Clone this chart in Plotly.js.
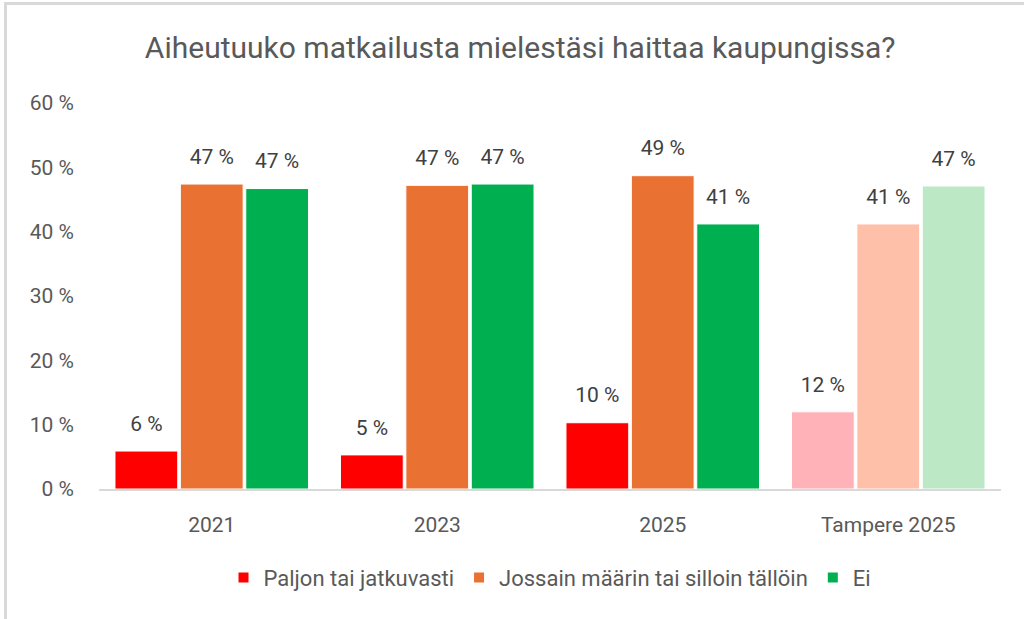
<!DOCTYPE html>
<html>
<head>
<meta charset="utf-8">
<script src="https://cdn.plot.ly/plotly-3.0.1.min.js"></script>
<style>
  html, body { margin: 0; padding: 0; background: #fff; }
  #frame { position: absolute; left: 0; top: 0; width: 1024px; height: 619px; overflow: hidden; }
  #border { position: absolute; left: 4px; top: 2px; width: 1030px; height: 630px; border-left: 3px solid #d9d9d9; border-top: 3px solid #d9d9d9; pointer-events: none; }
  #chart { position: absolute; left: 0; top: 0; width: 1024px; height: 619px; }
</style>
</head>
<body>
<div id="frame">
  <div id="chart"></div>
  <div id="border"></div>
</div>
<script>
const categories = ["2021", "2023", "2025", "Tampere 2025"];
const seriesNames = ["Paljon tai jatkuvasti", "Jossain määrin tai silloin tällöin", "Ei"];
const paljon = [5.9, 5.3, 10.3, 12.0];
const jossain = [47.4, 47.2, 48.7, 41.2];
const ei = [46.7, 47.4, 41.2, 47.1];
const yTicks = [0, 10, 20, 30, 40, 50, 60];
const yTickLabels = ["0 %", "10 %", "20 %", "30 %", "40 %", "50 %", "60 %"];

const mainColors = ["#FF0000", "#E97132", "#00B050"];
const lightColors = ["#FFB3B8", "#FFC0AA", "#BCE8C6"];
const values = [paljon, jossain, ei];

const FONT = "Roboto, 'Liberation Sans', Arial, sans-serif";

const traces = values.map((vals, i) => ({
  type: "bar",
  name: seriesNames[i],
  x: categories,
  y: vals,
  marker: {
    color: categories.map((c, j) => j === categories.length - 1 ? lightColors[i] : mainColors[i]),
    line: { color: "#ffffff", width: 1 }
  },
  text: vals.map(v => "<span style='font-size:21px'>" + Math.round(v) + " %</span><br>\u00a0"),
  texttemplate: "%{text}",
  textposition: "outside",
  constraintext: "none",
  textfont: { family: FONT, size: 11, color: "#404040" },
  cliponaxis: false,
  hoverinfo: "skip"
}));

const layout = {
  width: 1024,
  height: 619,
  margin: { l: 99, r: 23, t: 103, b: 130 },
  paper_bgcolor: "#ffffff",
  plot_bgcolor: "#ffffff",
  barmode: "group",
  bargap: 0.13,
  bargroupgap: 0.04,
  showlegend: true,
  title: {
    text: "Aiheutuuko matkailusta mielestäsi haittaa kaupungissa?",
    font: { family: FONT, size: 30, color: "#595959" },
    x: 0.508, xanchor: "center",
    y: 0.924, yanchor: "middle"
  },
  xaxis: {
    type: "category",
    showline: true,
    linecolor: "#d9d9d9",
    linewidth: 1.5,
    ticks: "",
    showgrid: false,
    zeroline: false,
    ticklabelstandoff: 16,
    tickfont: { family: FONT, size: 21, color: "#595959" }
  },
  yaxis: {
    range: [0, 60],
    tickvals: yTicks,
    ticktext: yTickLabels,
    showgrid: false,
    zeroline: false,
    showline: false,
    ticks: "",
    ticklabelstandoff: 24,
    tickfont: { family: FONT, size: 21, color: "#595959" }
  },
  legend: {
    orientation: "h",
    x: 0.5, xanchor: "center",
    y: -0.23, yanchor: "middle",
    font: { family: FONT, size: 22, color: "#595959" },
    itemsizing: "constant",
    traceorder: "normal"
  }
};

Plotly.newPlot("chart", traces, layout, { displayModeBar: false, staticPlot: true });
</script>
</body>
</html>
